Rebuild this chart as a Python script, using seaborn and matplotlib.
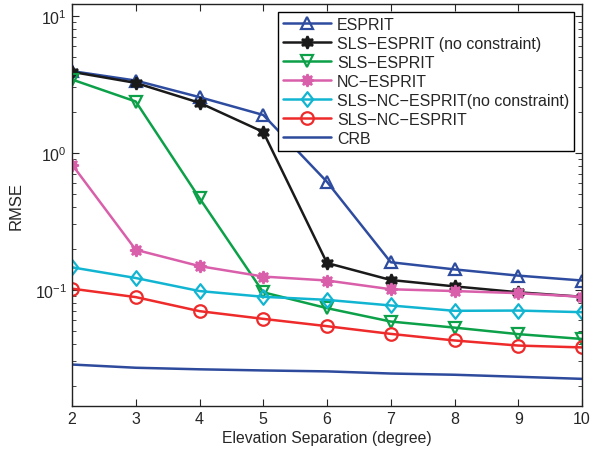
import numpy as np
import seaborn as sns
import matplotlib.pyplot as plt
from matplotlib.path import Path

sns.set_style("ticks")
plt.rcParams['font.family'] = ['Liberation Sans', 'DejaVu Sans']
plt.rcParams['mathtext.default'] = 'regular'

# Data
sep = [2, 3, 4, 5, 6, 7, 8, 9, 10]
esprit = [3.95, 3.37, 2.55, 1.89, 0.614, 0.159, 0.141, 0.127, 0.117]
sls_esprit_nc = [3.9, 3.24, 2.32, 1.42, 0.157, 0.118, 0.106, 0.096, 0.089]
sls_esprit = [3.43, 2.37, 0.467, 0.096, 0.0735, 0.0587, 0.053, 0.0475, 0.0438]
nc_esprit = [0.822, 0.196, 0.149, 0.125, 0.117, 0.101, 0.098, 0.0946, 0.089]
sls_nc_esprit_nc = [0.146, 0.122, 0.098, 0.089, 0.0845, 0.0769, 0.0703, 0.0706, 0.0687]
sls_nc_esprit = [0.102, 0.0885, 0.0699, 0.0614, 0.0543, 0.0477, 0.0427, 0.0392, 0.038]
crb = [0.0285, 0.027, 0.0263, 0.0258, 0.0254, 0.0245, 0.024, 0.0232, 0.0224]

# matlab-like diamond (a bit wider than matplotlib's 'd')
diamond = Path([(0, 1), (0.78, 0), (0, -1), (-0.78, 0), (0, 1)],
               [Path.MOVETO, Path.LINETO, Path.LINETO, Path.LINETO, Path.CLOSEPOLY])

series = [
    ("ESPRIT", esprit, "#2E4C9F", "^", "none", 9),
    ("SLS\u2212ESPRIT (no constraint)", sls_esprit_nc, "#1a1a1a", (6, 1, 0), None, 9),
    ("SLS\u2212ESPRIT", sls_esprit, "#0CA048", "v", "none", 9),
    ("NC\u2212ESPRIT", nc_esprit, "#D95FAA", (8, 1, 0), None, 9),
    ("SLS\u2212NC\u2212ESPRIT(no constraint)", sls_nc_esprit_nc, "#12B5D1", diamond, "none", 10.5),
    ("SLS\u2212NC\u2212ESPRIT", sls_nc_esprit, "#EE2A2A", "o", "none", 9),
    ("CRB", crb, "#2D4A9C", None, None, 0),
]

fig = plt.figure(figsize=(6.02, 4.56), dpi=100)
ax = fig.add_axes([0.1196, 0.1075, 0.8472, 0.8815])

for name, vals, col, mk, mfc, ms in series:
    kw = dict(color=col, linewidth=1.8, label=name)
    if mk is not None:
        kw.update(marker=mk, markersize=ms, markeredgewidth=1.6, markeredgecolor=col)
        kw["markerfacecolor"] = mfc if mfc else col
    sns.lineplot(x=sep, y=vals, ax=ax, **kw)

ax.set_yscale("log")
ax.set_xlim(2, 10)
ax.set_ylim(0.0142, 12.2)
ax.set_xticks(sep)
ax.tick_params(which="both", direction="in", top=True, right=True, labelsize=11.5)
ax.tick_params(which="major", length=5)
ax.tick_params(which="minor", length=3)
for s in ax.spines.values():
    s.set_linewidth(1.0)
    s.set_color("#222222")

ax.set_xlabel("Elevation Separation (degree)", fontsize=11.3, labelpad=3)
ax.set_ylabel("RMSE", fontsize=12, labelpad=8)

leg = ax.legend(loc="upper right", fontsize=11.5, handlelength=3.0, frameon=True,
                fancybox=False, edgecolor="black", framealpha=1,
                borderaxespad=0.5, labelspacing=0.25, borderpad=0.3,
                handletextpad=0.4)
leg.get_frame().set_linewidth(1.0)

fig.savefig("out.png", dpi=100)
